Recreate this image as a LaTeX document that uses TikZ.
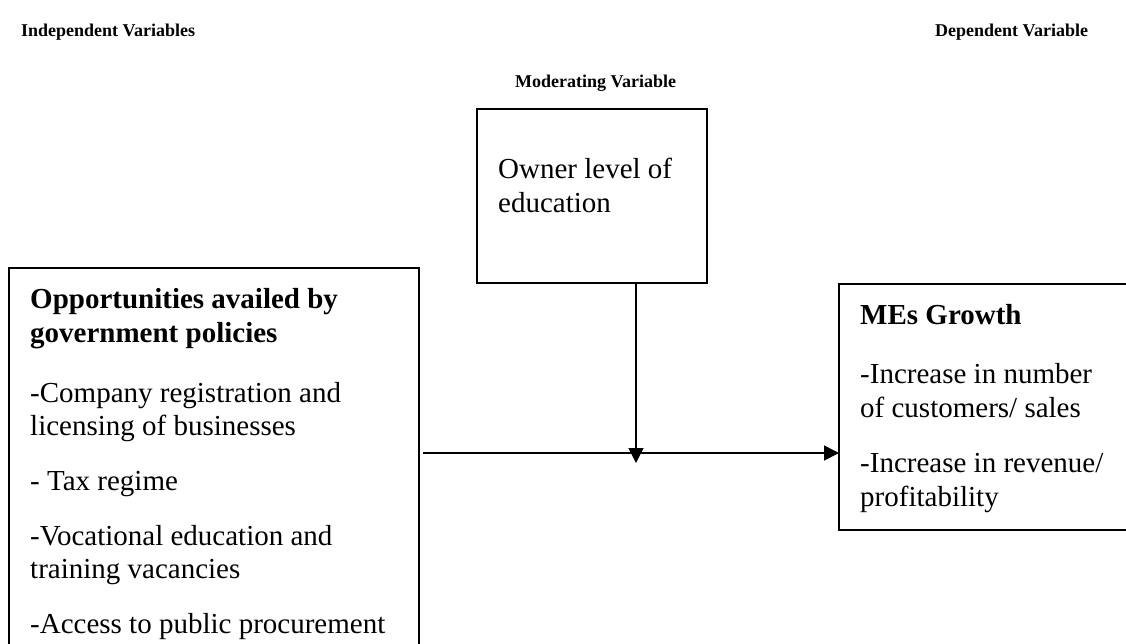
\documentclass[tikz,border=0pt]{standalone}
\usepackage{fontspec}
\setmainfont{Liberation Serif}
\usetikzlibrary{arrows.meta}
\begin{document}
\begin{tikzpicture}[x=1pt,y=-1pt,
  box/.style={draw, line width=1.5pt, inner sep=0pt, outer sep=0pt, anchor=north west},
  modbox/.style={box, line width=2.6pt},
  body/.style={anchor=base west, inner sep=0pt, font=\fontsize{29}{33.5}\selectfont},
  bodyb/.style={anchor=base west, inner sep=0pt, font=\fontsize{29}{33.5}\selectfont\bfseries},
  heading/.style={anchor=base west, inner sep=0pt, font=\fontsize{18}{22}\selectfont\bfseries},
  conn/.style={line width=1.5pt, -{Triangle[length=15pt,width=15pt]}}]
\useasboundingbox (0,0) rectangle (1126,643);
\fill[white] (0,0) rectangle (1126,643);

% headings
\node[heading] (hind) at (21,36) {Independent Variables};
\node[heading] (hdep) at (935,36) {Dependent Variable};
\node[heading] (hmod) at (515,87) {Moderating Variable};

% boxes
\node[box, minimum width=410pt, minimum height=440pt] (L) at (9,268) {};
\node[modbox, minimum width=230pt, minimum height=174pt] (M) at (477,109) {};
\node[box, minimum width=310pt, minimum height=246pt] (R) at (839,284) {};

% left box text
\node[bodyb] (l1) at (30,308) {Opportunities availed by};
\node[bodyb] (l2) at (30,342) {government policies};
\node[body] (l3) at (30,402) {-Company registration and};
\node[body] (l4) at (30,435) {licensing of businesses};
\node[body] (l5) at (30,490) {- Tax regime};
\node[body] (l6) at (30,545) {-Vocational education and};
\node[body] (l7) at (30,578) {training vacancies};
\node[body] (l8) at (30,633) {-Access to public procurement};

% middle box text
\node[body] (m1) at (498,178) {Owner level of};
\node[body] (m2) at (498,212) {education};

% right box text
\node[bodyb] (r1) at (860,324) {MEs Growth};
\node[body] (r2) at (860,383) {-Increase in number};
\node[body] (r3) at (860,417) {of customers/ sales};
\node[body] (r4) at (860,472) {-Increase in revenue/};
\node[body] (r5) at (860,506) {profitability};

% connectors
\coordinate (hy) at (0,453);
\coordinate (vx) at (636,0);
\coordinate (vtip) at (636,463);
\draw[conn] ([xshift=4pt]L.east |- hy) -- (R.west |- hy);
\draw[conn] (M.south -| vx) -- (vtip);
\end{tikzpicture}
\end{document}
